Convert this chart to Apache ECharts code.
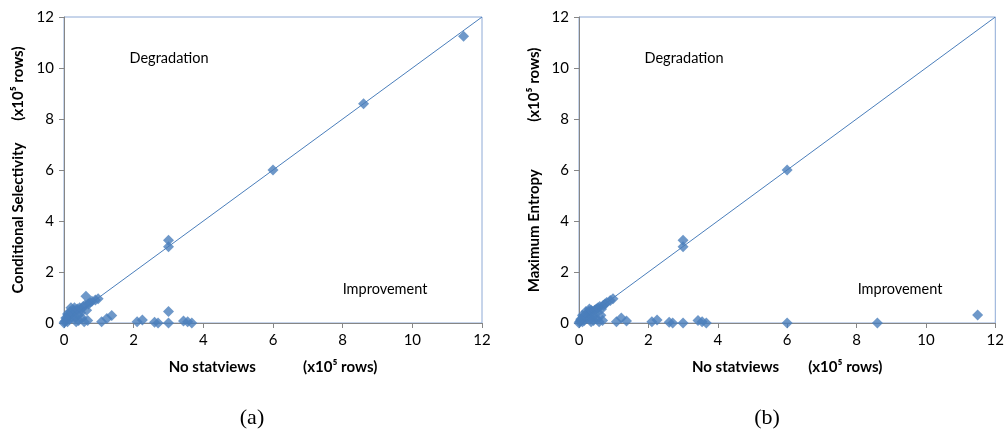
<!DOCTYPE html>
<html>
<head>
<meta charset="utf-8">
<script src="https://cdn.jsdelivr.net/npm/echarts@6/dist/echarts.min.js"></script>
<style>
  html, body { margin: 0; padding: 0; background: #fff; }
  #chart { width: 1007px; height: 433px; }
</style>
</head>
<body>
<div id="chart"></div>
<script>
// axis ticks (x10^5 rows)
const axisMin = 0;
const axisMax = 12;
const axisStep = 2;
const diagonal = [0, 12];

// (a) No statviews vs Conditional Selectivity
const aX = [0, 0.02, 0.05, 0.08, 0.1, 0.12, 0.15, 0.18, 0.2, 0.22, 0.25, 0.28, 0.3, 0.32, 0.35, 0.38, 0.4, 0.42,
  0.45, 0.48, 0.5, 0.52, 0.55, 0.58, 0.6, 0.63, 0.65, 0.68, 0.7, 0.75, 0.8, 0.9, 0.1, 0.05, 0.35, 0.98,
  1.08, 1.23, 1.37, 2.1, 2.25, 2.6, 2.7, 3.0, 3.0, 3.0, 3.0, 3.43, 3.55, 3.67, 6.0, 8.6, 11.47];
const aY = [0, 0.05, 0.1, 0.2, 0.05, 0.3, 0.15, 0.45, 0.6, 0.25, 0.35, 0.5, 0.6, 0.2, 0.45, 0.55, 0.3, 0.1,
  0.6, 0.4, 0.55, 0.2, 0.65, 0.05, 0.7, 1.05, 0.5, 0.1, 0.75, 0.8, 0.85, 0.9, 0.35, 0.2, 0.05, 0.95,
  0.05, 0.18, 0.29, 0.05, 0.12, 0.03, 0.0, 0.0, 0.45, 2.99, 3.25, 0.08, 0.05, 0.0, 6.0, 8.6, 11.25];

// (b) No statviews vs Maximum Entropy
const bX = [0, 0.02, 0.05, 0.08, 0.1, 0.12, 0.15, 0.18, 0.2, 0.22, 0.25, 0.28, 0.3, 0.32, 0.35, 0.38, 0.4, 0.42,
  0.45, 0.48, 0.5, 0.52, 0.55, 0.58, 0.6, 0.63, 0.65, 0.68, 0.7, 0.75, 0.8, 0.9, 0.1, 0.05, 0.35, 0.98,
  1.08, 1.22, 1.37, 2.1, 2.25, 2.6, 2.7, 3.0, 3.0, 3.0, 3.43, 3.55, 3.67, 6.0, 6.0, 8.6, 11.49];
const bY = [0, 0.05, 0.1, 0.15, 0.05, 0.25, 0.1, 0.3, 0.45, 0.2, 0.3, 0.45, 0.55, 0.15, 0.5, 0.45, 0.25, 0.1,
  0.5, 0.35, 0.55, 0.15, 0.6, 0.05, 0.65, 0.3, 0.55, 0.1, 0.7, 0.75, 0.8, 0.88, 0.3, 0.15, 0.05, 0.95,
  0.05, 0.2, 0.08, 0.05, 0.12, 0.03, 0.0, 0.0, 2.99, 3.25, 0.1, 0.05, 0.0, 6.0, 0.0, 0.0, 0.31];

const blue = "#4a7ebb";
const font = "Lato";

function pairs(xs, ys) {
  return xs.map((x, i) => [x, ys[i]]);
}

function gap(n) {
  return " ".repeat(n);
}

function axis(gridIndex, name, nameGap) {
  return {
    gridIndex,
    type: "value",
    min: axisMin,
    max: axisMax,
    interval: axisStep,
    name,
    nameLocation: "middle",
    nameGap,
    nameTextStyle: { fontFamily: font, fontWeight: "bold", fontSize: 15, color: "#000" },
    axisLine: { show: true, onZero: false, lineStyle: { color: "#868686", width: 1 } },
    axisTick: { show: true, inside: false, length: 5, lineStyle: { color: "#868686" } },
    axisLabel: { fontFamily: font, fontSize: 15, color: "#000", margin: 10 },
    splitLine: { show: false }
  };
}

function label(x, y, text, size, family) {
  return {
    type: "text",
    x, y,
    style: {
      text,
      fill: "#000",
      font: size + "px " + family,
      textAlign: "center",
      textVerticalAlign: "middle"
    }
  };
}

const chart = echarts.init(document.getElementById("chart"));
chart.setOption({
  animation: false,
  backgroundColor: "#fff",
  grid: [
    { left: 64, top: 17, width: 418, height: 306, show: true, borderColor: "#8eaad6", borderWidth: 1 },
    { left: 579, top: 17, width: 418, height: 306, show: true, borderColor: "#8eaad6", borderWidth: 1 }
  ],
  xAxis: [
    axis(0, "No statviews" + gap(13) + "(x10\u2075 rows)", 37),
    axis(1, "No statviews" + gap(8) + "(x10\u2075 rows)", 37)
  ],
  yAxis: [
    axis(0, "Conditional Selectivity" + gap(6) + "(x10\u2075 rows)", 38),
    axis(1, "Maximum Entropy" + gap(13) + "(x10\u2075 rows)", 37)
  ],
  graphic: [
    label(169, 58, "Degradation", 14.5, font),
    label(385, 289, "Improvement", 14.5, font),
    label(684, 58, "Degradation", 14.5, font),
    label(900, 289, "Improvement", 14.5, font),
    label(252, 418, "(a)", 22, "Liberation Serif"),
    label(767, 418, "(b)", 22, "Liberation Serif")
  ],
  series: [
    {
      type: "line", xAxisIndex: 0, yAxisIndex: 0,
      data: pairs(diagonal, diagonal), showSymbol: false,
      lineStyle: { color: blue, width: 1 }, silent: true
    },
    {
      type: "line", xAxisIndex: 1, yAxisIndex: 1,
      data: pairs(diagonal, diagonal), showSymbol: false,
      lineStyle: { color: blue, width: 1 }, silent: true
    },
    {
      type: "scatter", xAxisIndex: 0, yAxisIndex: 0,
      data: pairs(aX, aY), symbol: "diamond", symbolSize: 11,
      itemStyle: { color: blue }
    },
    {
      type: "scatter", xAxisIndex: 1, yAxisIndex: 1,
      data: pairs(bX, bY), symbol: "diamond", symbolSize: 11,
      itemStyle: { color: blue }
    }
  ]
});
</script>
</body>
</html>
